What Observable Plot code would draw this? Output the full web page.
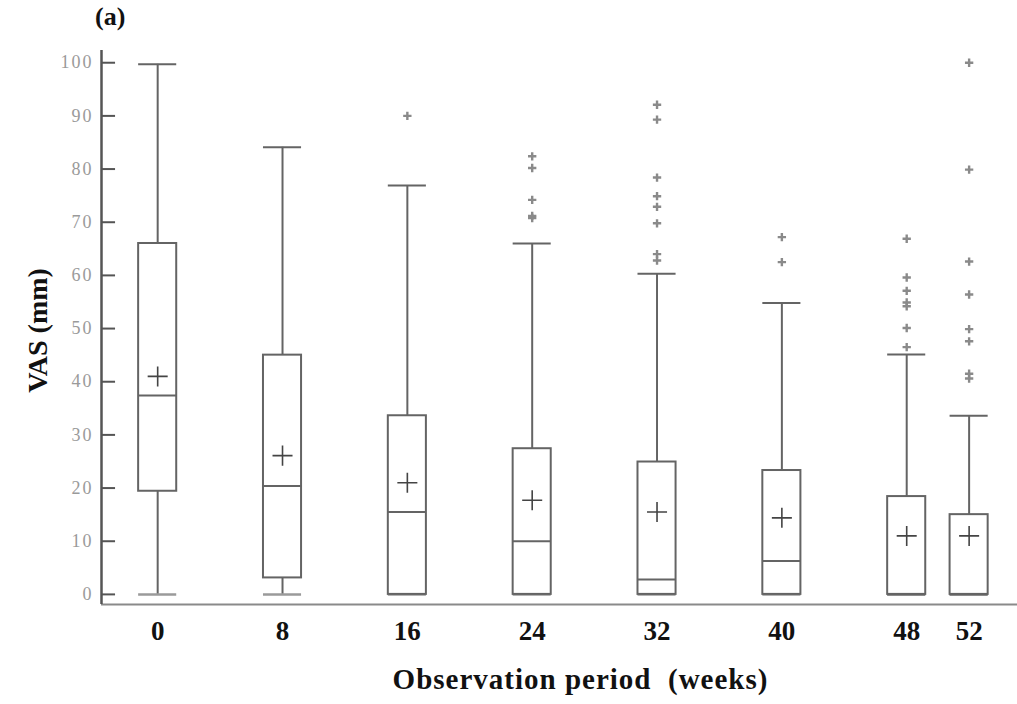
<!DOCTYPE html>
<html>
<head>
<meta charset="utf-8">
<script src="https://cdn.jsdelivr.net/npm/d3@7"></script>
<script src="https://cdn.jsdelivr.net/npm/@observablehq/plot@0.6"></script>
<style>
  html, body { margin: 0; padding: 0; background: #fff; }
  #wrap { position: relative; width: 1017px; height: 704px; }
  #panel { position: absolute; left: 95px; top: 2px; font: bold 26px "Liberation Serif", serif; color: #111; }
  g[aria-label="y-axis tick label"] text { letter-spacing: 2px; }
</style>
</head>
<body>
<div id="wrap"><div id="panel">(a)</div></div>
<script>
// Data
const weeks       = [0, 8, 16, 24, 32, 40, 48, 52];
const whiskerLow  = [0, 0, 0, 0, 0, 0, 0, 0];
const q1          = [19.4, 3.1, 0, 0, 0, 0, 0, 0];
const median      = [37.4, 20.4, 15.5, 10.0, 2.8, 6.3, 0, 0];
const q3          = [66.0, 45.0, 33.6, 27.4, 24.9, 23.3, 18.4, 15.0];
const whiskerHigh = [99.7, 84.1, 76.9, 66.0, 60.3, 54.8, 45.1, 33.6];
const means       = [41.0, 26.1, 21.0, 17.7, 15.5, 14.4, 11.0, 11.0];

const outlierWeek  = [16, 24, 24, 24, 24, 24, 32, 32, 32, 32, 32, 32, 32, 32, 40, 40, 48, 48, 48, 48, 48, 48, 48, 52, 52, 52, 52, 52, 52, 52, 52];
const outlierValue = [90, 82.4, 80.2, 74.2, 71.2, 70.8, 92.1, 89.3, 78.4, 74.9, 72.9, 69.8, 64.0, 62.8, 67.2, 62.5, 66.9, 59.6, 57.1, 54.9, 54.2, 50.1, 46.5, 100, 79.9, 62.6, 56.4, 49.9, 47.6, 41.5, 40.6];

const yTicks = [0, 10, 20, 30, 40, 50, 60, 70, 80, 90, 100];
const xTitle = "Observation period  (weeks)";
const yTitle = "VAS (mm)";

const boxes = weeks.map((w, i) => ({week: w, lo: whiskerLow[i], q1: q1[i], med: median[i], q3: q3[i], hi: whiskerHigh[i], mean: means[i]}));
const outliers = outlierWeek.map((w, i) => ({week: w, value: outlierValue[i]}));

const xDom = [-3.6, 55.1];
const yDom = [-1.9, 102.3];
const half = 1.22;     // half box width in weeks
const tickLen = 0.9;   // y tick length in weeks
const stroke = "#646464";

const chart = Plot.plot({
  width: 1017,
  height: 704,
  marginLeft: 101,
  marginRight: 0,
  marginTop: 50,
  marginBottom: 100,
  style: {fontFamily: "'Liberation Serif', serif", background: "transparent"},
  x: {domain: xDom},
  y: {domain: yDom},
  marks: [
    // axes lines
    Plot.ruleY([yDom[0]], {x1: xDom[0], x2: xDom[1], stroke: "#8a8a8a", strokeWidth: 2}),
    Plot.ruleX([xDom[0]], {y1: yDom[0], y2: yDom[1], stroke: "#555", strokeWidth: 2.5}),
    Plot.ruleY(yTicks, {y: d => d, x1: xDom[0], x2: xDom[0] + tickLen, stroke: "#555", strokeWidth: 2}),
    Plot.axisY({ticks: yTicks, tickSize: 0, tickPadding: 8, fontSize: 18, fill: "#9a9a9a", label: null}),
    Plot.axisX({ticks: weeks, tickSize: 0, tickPadding: 16, fontSize: 27, fontWeight: "bold", fill: "#111", label: null}),
    // whiskers
    Plot.ruleX(boxes, {x: "week", y1: "q3", y2: "hi", stroke, strokeWidth: 2}),
    Plot.ruleX(boxes, {x: "week", y1: "lo", y2: "q1", stroke, strokeWidth: 2}),
    Plot.ruleY(boxes, {y: "hi", x1: d => d.week - half, x2: d => d.week + half, stroke, strokeWidth: 2}),
    Plot.ruleY(boxes, {y: "lo", x1: d => d.week - half, x2: d => d.week + half, stroke: "#9a9a9a", strokeWidth: 2.5}),
    // boxes
    Plot.rectY(boxes, {x1: d => d.week - half, x2: d => d.week + half, y1: "q1", y2: "q3", fill: "white", stroke, strokeWidth: 2}),
    Plot.ruleY(boxes, {y: "med", x1: d => d.week - half, x2: d => d.week + half, stroke, strokeWidth: 2}),
    // means
    Plot.dot(boxes, {x: "week", y: "mean", symbol: "plus", r: 6.5, stroke: "#444", strokeWidth: 1.6}),
    // outliers
    Plot.dot(outliers, {x: "week", y: "value", symbol: "plus", r: 2.8, stroke: "#8a8a8a", strokeWidth: 2.4}),
    // axis titles
    Plot.text([yTitle], {frameAnchor: "left", textAnchor: "middle", rotate: -90, dx: -63, dy: 3, fontSize: 28, fontWeight: "bold", fill: "#111"}),
    Plot.text([xTitle], {frameAnchor: "bottom", textAnchor: "middle", dy: 84, dx: 21, fontSize: 29, fontWeight: "bold", fill: "#111"})
  ]
});
d3.select(chart).selectAll("text")
  .filter(function() { return this.textContent === xTitle; })
  .attr("letter-spacing", "1px")
  .attr("xml:space", "preserve")
  .style("white-space", "pre");
document.getElementById("wrap").prepend(chart);
</script>
</body>
</html>
